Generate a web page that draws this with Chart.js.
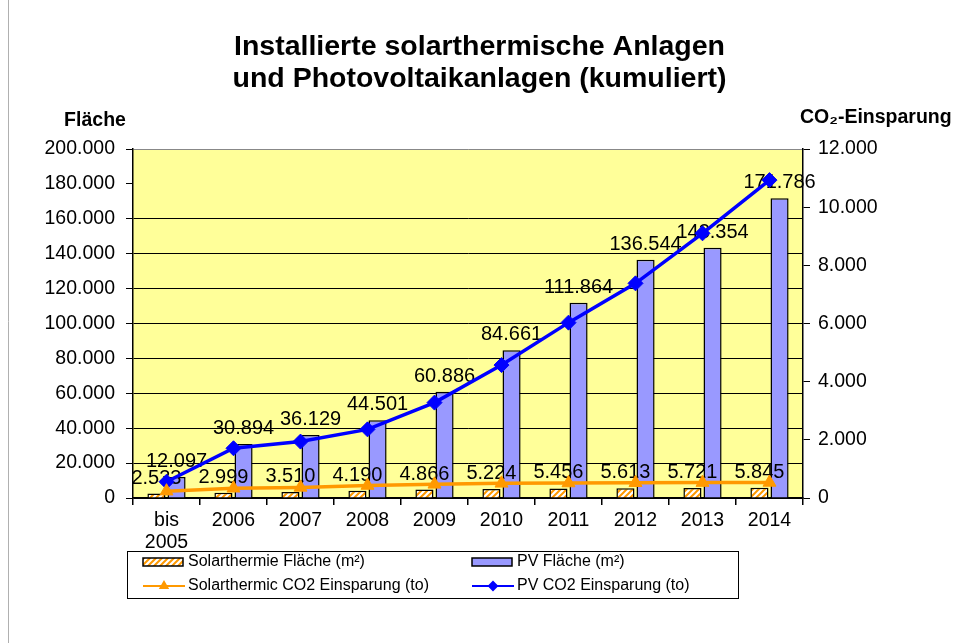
<!DOCTYPE html>
<html><head><meta charset="utf-8">
<script src="https://cdn.jsdelivr.net/npm/chart.js@4"></script>
<style>html,body{margin:0;padding:0;background:#fff;}#wrap{width:959px;height:643px;position:relative;}</style>
</head><body><div id="wrap"><canvas id="c"></canvas></div>
<script>
const titleLines = ['Installierte solarthermische Anlagen', 'und Photovoltaikanlagen (kumuliert)'];
const leftAxisTitle = 'Fläche';
const rightAxisTitle = 'CO₂-Einsparung';
const categories = [['bis', '2005'], '2006', '2007', '2008', '2009', '2010', '2011', '2012', '2013', '2014'];
const seriesNames = ['Solarthermie Fläche (m²)', 'PV Fläche (m²)', 'Solarthermic CO2 Einsparung (to)', 'PV CO2 Einsparung (to)'];
const solarFlaeche = [2533, 2999, 3510, 4190, 4866, 5224, 5456, 5613, 5721, 5845];
const pvFlaeche = [12097, 30894, 36129, 44501, 60886, 84661, 111864, 136544, 143354, 171786];
const solarCO2 = [235, 335, 365, 430, 470, 505, 515, 525, 530, 535];
const pvCO2 = [560, 1710, 1940, 2360, 3280, 4570, 6030, 7380, 9100, 10930];
const leftTicks = [0, 20000, 40000, 60000, 80000, 100000, 120000, 140000, 160000, 180000, 200000];
const rightTicks = [0, 2000, 4000, 6000, 8000, 10000, 12000];

const FONT = "'Liberation Sans', Arial, sans-serif";
const fmt = v => String(v).replace(/\B(?=(\d{3})+(?!\d))/g, '.');

function hatch() {
  const p = document.createElement('canvas'); p.width = 6; p.height = 6;
  const g = p.getContext('2d');
  g.fillStyle = '#ffffff'; g.fillRect(0, 0, 6, 6);
  g.strokeStyle = '#FF9900'; g.lineWidth = 2;
  g.beginPath();
  g.moveTo(-1, 7); g.lineTo(7, -1);
  g.moveTo(-1, 1); g.lineTo(1, -1);
  g.moveTo(5, 7); g.lineTo(7, 5);
  g.stroke();
  return g.createPattern(p, 'repeat');
}
const hatchFill = hatch();

const bgPlugin = {
  id: 'bg',
  beforeDraw(chart) {
    const { ctx, chartArea: a } = chart;
    ctx.save();
    ctx.fillStyle = '#FFFF99';
    ctx.fillRect(a.left, a.top, a.right - a.left, a.bottom - a.top);
    ctx.strokeStyle = '#b0b0b0'; ctx.lineWidth = 1;
    ctx.beginPath(); ctx.moveTo(8.5, 0); ctx.lineTo(8.5, 643); ctx.stroke();
    ctx.restore();
  }
};

const labelPlugin = {
  id: 'barLabels',
  afterDatasetDraw(chart, args) {
    const meta = args.meta;
    if (meta.type !== 'bar') return;
    const ds = chart.data.datasets[args.index];
    const ctx = chart.ctx;
    ctx.save();
    ctx.font = '20px ' + FONT;
    ctx.fillStyle = '#000';
    ctx.textAlign = 'center';
    ctx.textBaseline = 'alphabetic';
    meta.data.forEach((el, i) => {
      ctx.fillText(fmt(ds.data[i]), el.x, el.y - 10);
    });
    ctx.restore();
  }
};

const decoPlugin = {
  id: 'deco',
  afterDraw(chart) {
    const ctx = chart.ctx;
    ctx.save();
    ctx.fillStyle = '#000';
    ctx.font = 'bold 19.5px ' + FONT;
    ctx.textBaseline = 'middle';
    ctx.textAlign = 'center';
    ctx.fillText(leftAxisTitle, 95, 121);
    ctx.textAlign = 'left';
    ctx.font = 'bold 19.5px ' + FONT;
    ctx.fillText(rightAxisTitle, 800, 118);

    // legend
    const box = { left: 127, top: 551, right: 738, bottom: 598 };
    ctx.strokeStyle = '#000'; ctx.lineWidth = 1;
    ctx.strokeRect(box.left + 0.5, box.top + 0.5, box.right - box.left, box.bottom - box.top);
    const rows = [562, 586];
    const cols = [{ sym: 143, text: 188 }, { sym: 472, text: 517 }];
    const order = [0, 1, 2, 3];
    ctx.font = '16px ' + FONT;
    ctx.textAlign = 'left'; ctx.textBaseline = 'middle';
    order.forEach((di, k) => {
      const ds = chart.data.datasets[di];
      const col = cols[k % 2], y = rows[Math.floor(k / 2)];
      if (ds.type === 'bar') {
        ctx.fillStyle = ds.backgroundColor;
        ctx.fillRect(col.sym, y - 4, 40, 8);
        ctx.strokeStyle = '#000'; ctx.lineWidth = 1.5;
        ctx.strokeRect(col.sym, y - 4, 40, 8);
      } else {
        ctx.strokeStyle = ds.borderColor; ctx.lineWidth = 2;
        ctx.beginPath(); ctx.moveTo(col.sym, y); ctx.lineTo(col.sym + 42, y); ctx.stroke();
        Chart.helpers.drawPoint(ctx, { pointStyle: ds.pointStyle, radius: 4, borderWidth: 1 }, col.sym + 21, y);
        ctx.fillStyle = ds.pointBackgroundColor;
        ctx.fill();
      }
      ctx.fillStyle = '#000';
      ctx.fillText(ds.label, col.text, y);
    });
    ctx.restore();
  }
};

const tickFont = { family: FONT, size: 19.5, lineHeight: 1.15 };

new Chart(document.getElementById('c'), {
  data: {
    labels: categories,
    datasets: [
      { type: 'bar', label: seriesNames[0], data: solarFlaeche, yAxisID: 'y', backgroundColor: hatchFill, borderColor: '#000', borderWidth: 1.5, order: 1, categoryPercentage: 0.6, barPercentage: 0.9 },
      { type: 'bar', label: seriesNames[1], data: pvFlaeche, yAxisID: 'y', backgroundColor: '#9999FF', borderColor: '#000', borderWidth: 1.5, order: 1, categoryPercentage: 0.6, barPercentage: 0.9 },
      { type: 'line', label: seriesNames[2], data: solarCO2, yAxisID: 'y1', borderColor: '#FF9900', backgroundColor: '#FF9900', pointBackgroundColor: '#FF9900', pointBorderColor: '#FF9900', borderWidth: 3.5, pointStyle: 'triangle', pointRadius: 7.5, pointBorderWidth: 1, tension: 0, order: 0 },
      { type: 'line', label: seriesNames[3], data: pvCO2, yAxisID: 'y1', borderColor: '#0000FF', backgroundColor: '#0000FF', pointBackgroundColor: '#0000FF', pointBorderColor: '#0000FF', borderWidth: 3.5, pointStyle: 'rectRot', pointRadius: 7.5, pointBorderWidth: 1, tension: 0, order: 0 }
    ]
  },
  options: {
    responsive: true,
    maintainAspectRatio: false,
    animation: false,
    layout: { padding: { left: 0, right: 0, top: 0, bottom: 0 } },
    plugins: {
      legend: { display: false },
      tooltip: { enabled: false },
      title: {
        display: true, text: titleLines, color: '#000',
        font: { family: FONT, size: 28.5, weight: 'bold', lineHeight: 1.1 },
        padding: { top: 31.8, bottom: 54.5 }
      }
    },
    scales: {
      x: {
        offset: true,
        grid: { offset: true, drawOnChartArea: false, tickLength: 7, color: '#000', tickColor: '#000', lineWidth: 1.5 },
        border: { color: '#000', width: 1.5 },
        ticks: { font: tickFont, color: '#000', padding: 4, maxRotation: 0, autoSkip: false },
        afterFit(s) { s.height = 145; }
      },
      y: {
        position: 'left', min: 0, max: 200000,
        afterBuildTicks(s) { s.ticks = leftTicks.map(v => ({ value: v })); },
        ticks: { callback: fmt, padding: 11, font: tickFont, color: '#000' },
        grid: {
          color: c => (c.tick && c.tick.value === 180000) ? 'rgba(0,0,0,0)' : (c.tick && c.tick.value === 200000 ? '#888888' : '#000000'),
          tickColor: '#000', tickLength: 7, lineWidth: 1
        },
        border: { color: '#000', width: 1.5 },
        afterFit(s) { s.width = 133; }
      },
      y1: {
        position: 'right', min: 0, max: 12000,
        afterBuildTicks(s) { s.ticks = rightTicks.map(v => ({ value: v })); },
        ticks: { callback: fmt, padding: 8, font: tickFont, color: '#000' },
        grid: { drawOnChartArea: false, tickColor: '#000', tickLength: 7, lineWidth: 1 },
        border: { color: '#000', width: 1.5 },
        afterFit(s) { s.width = 156; }
      }
    }
  },
  plugins: [bgPlugin, labelPlugin, decoPlugin]
});
</script></body></html>
